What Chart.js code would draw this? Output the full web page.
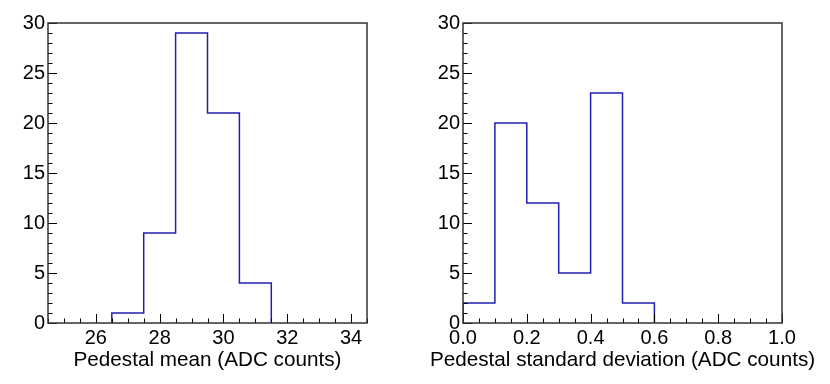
<!DOCTYPE html>
<html>
<head>
<meta charset="utf-8">
<script src="https://cdn.jsdelivr.net/npm/chart.js@4.4.1/dist/chart.umd.min.js"></script>
<style>
  body { margin: 0; background: #fff; }
  #wrap { display: flex; width: 830px; height: 384px; }
  canvas { display: block; }
</style>
</head>
<body>
<div id="wrap">
  <canvas id="meanChart" width="415" height="384"></canvas>
  <canvas id="sdChart" width="415" height="384"></canvas>
</div>
<script>
// pedestal mean histogram
const meanEdges = [26.5, 27.5, 28.5, 29.5, 30.5, 31.5];
const meanCounts = [1, 9, 29, 21, 4];
const meanTicks = [26, 28, 30, 32, 34];

// pedestal standard deviation histogram
const sdEdges = [0.0, 0.1, 0.2, 0.3, 0.4, 0.5, 0.6];
const sdCounts = [2, 20, 12, 5, 23, 2];
const sdTicks = [0.0, 0.2, 0.4, 0.6, 0.8, 1.0];

const countTicks = [0, 5, 10, 15, 20, 25, 30];

const FONT = "'Liberation Sans', Arial, Helvetica, sans-serif";
const LINE = '#2020b0';

// outline of a histogram as step points
let histPoints = (edges, counts) => {
  const pts = [{x: edges[0], y: 0}];
  counts.forEach((c, i) => pts.push({x: edges[i], y: c}));
  pts.push({x: edges[edges.length - 1], y: counts[counts.length - 1]});
  pts.push({x: edges[edges.length - 1], y: 0});
  return pts;
};

// ROOT style frame with inward ticks, plus the axis title
const rootFrame = {
  id: 'rootFrame',
  afterDraw(chart, args, opts) {
    const {ctx, chartArea: a, scales: {x, y}} = chart;
    const isMajor = (scale, v) => scale.ticks.some(t => Math.abs(t.value - v) < 1e-6);
    ctx.save();
    ctx.strokeStyle = '#000';
    ctx.lineWidth = 1;
    ctx.beginPath();
    let n = Math.round((x.max - x.min) / opts.xMinor);
    for (let i = 0; i <= n; i++) {
      const v = x.min + i * opts.xMinor;
      const px = Math.round(x.getPixelForValue(v)) + 0.5;
      const len = isMajor(x, v) ? 9 : 4.5;
      ctx.moveTo(px, a.bottom);
      ctx.lineTo(px, a.bottom - len);
    }
    n = Math.round((y.max - y.min) / opts.yMinor);
    for (let i = 0; i <= n; i++) {
      const v = y.min + i * opts.yMinor;
      const py = Math.round(y.getPixelForValue(v)) + 0.5;
      const len = isMajor(y, v) ? 9 : 4.5;
      ctx.moveTo(a.left, py);
      ctx.lineTo(a.left + len, py);
    }
    ctx.stroke();
    ctx.strokeStyle = '#333';
    ctx.lineWidth = 1.5;
    ctx.strokeRect(a.left, a.top, a.right - a.left, a.bottom - a.top);

    ctx.fillStyle = '#000';
    ctx.font = `20.7px ${FONT}`;
    ctx.textAlign = 'center';
    ctx.textBaseline = 'alphabetic';
    ctx.fillText(opts.title, (a.left + a.right) / 2, 366);
    ctx.restore();
  }
};

let makeHist = (id, edges, counts, xMin, xMax, xTicks, xMinor, title, fmt) => {
  return new Chart(document.getElementById(id), {
    type: 'line',
    data: {
      datasets: [{
        data: histPoints(edges, counts),
        stepped: 'before',
        borderColor: LINE,
        borderWidth: 1.5,
        pointRadius: 0,
        fill: false,
      }],
    },
    options: {
      responsive: false,
      animation: false,
      devicePixelRatio: 1,
      layout: {padding: {left: 0, top: 23, right: 48, bottom: 0}},
      plugins: {
        legend: {display: false},
        tooltip: {enabled: false},
        rootFrame: {xMinor: xMinor, yMinor: 1, title: title},
      },
      scales: {
        x: {
          type: 'linear',
          min: xMin,
          max: xMax,
          afterBuildTicks: s => { s.ticks = xTicks.map(v => ({value: v})); },
          afterFit: s => { s.height = 61; },
          grid: {display: false, drawTicks: false},
          border: {display: false},
          ticks: {
            color: '#000',
            font: {family: FONT, size: 20},
            padding: 3,
            maxRotation: 0,
            autoSkip: false,
            callback: fmt,
          },
        },
        y: {
          type: 'linear',
          min: 0,
          max: 30,
          afterBuildTicks: s => { s.ticks = countTicks.map(v => ({value: v})); },
          afterFit: s => { s.width = 48; },
          grid: {display: false, drawTicks: false},
          border: {display: false},
          ticks: {
            color: '#000',
            font: {family: FONT, size: 20},
            padding: 3,
            autoSkip: false,
          },
        },
      },
    },
    plugins: [rootFrame],
  });
};

makeHist('meanChart', meanEdges, meanCounts, 24.5, 34.5, meanTicks, 0.5,
  'Pedestal mean (ADC counts)', v => String(v));
makeHist('sdChart', sdEdges, sdCounts, 0, 1, sdTicks, 0.05,
  'Pedestal standard deviation (ADC counts)', v => v.toFixed(1));
</script>
</body>
</html>
